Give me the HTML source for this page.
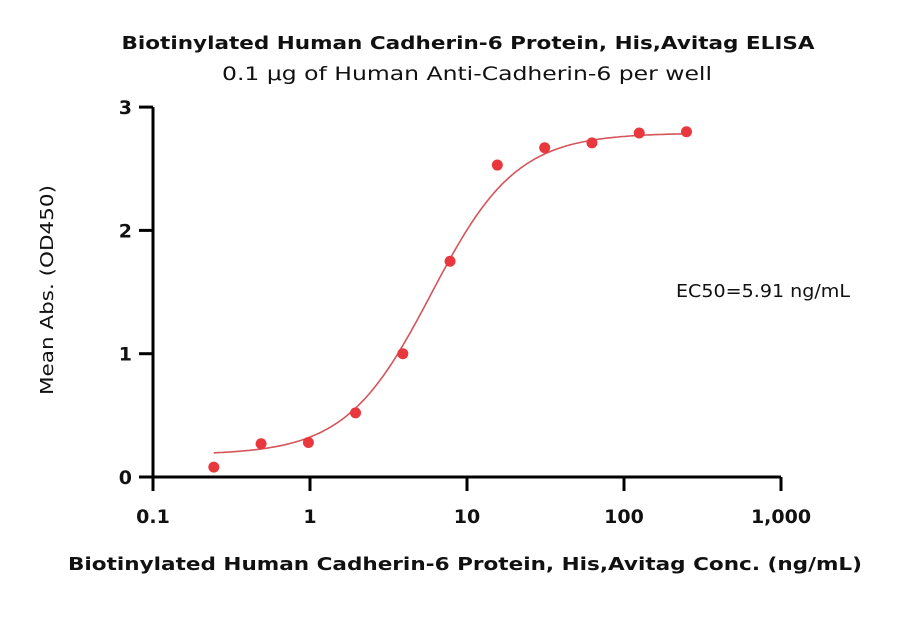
<!DOCTYPE html>
<html><head><meta charset="utf-8"><style>
body{margin:0;background:#fff;}
svg text{font-family:"DejaVu Sans","Liberation Sans",sans-serif;}
</style></head><body>
<svg width="910" height="634" viewBox="0 0 910 634">
<rect width="910" height="634" fill="#fff"/>
<text x="468" y="49" text-anchor="middle" font-size="18" font-weight="bold" fill="#111" textLength="693" lengthAdjust="spacingAndGlyphs">Biotinylated Human Cadherin-6 Protein, His,Avitag ELISA</text>
<text x="467" y="80" text-anchor="middle" font-size="19" fill="#111" textLength="490" lengthAdjust="spacingAndGlyphs">0.1 μg of Human Anti-Cadherin-6 per well</text>
<text transform="translate(53,290) rotate(-90)" text-anchor="middle" font-size="18" fill="#111" textLength="210" lengthAdjust="spacingAndGlyphs">Mean Abs. (OD450)</text>
<text x="465" y="570" text-anchor="middle" font-size="18" font-weight="bold" fill="#111" textLength="794" lengthAdjust="spacingAndGlyphs">Biotinylated Human Cadherin-6 Protein, His,Avitag Conc. (ng/mL)</text>
<text x="676" y="297" font-size="18" fill="#111" textLength="174" lengthAdjust="spacingAndGlyphs">EC50=5.91 ng/mL</text>
<g id="axes"></g>
<path id="curve" fill="none" stroke="#d4555a" stroke-width="1.6"/>
<g id="points"></g>
</svg>
<script>
const xValues=[0.244,0.488,0.977,1.95,3.9,7.8,15.6,31.25,62.5,125,250];
const yValues=[0.08,0.27,0.28,0.52,1.0,1.75,2.53,2.67,2.71,2.79,2.80];
const yTicks=[0,1,2,3];
const xTicks=[0.1,1,10,100,1000];
const xTickLabels=["0.1","1","10","100","1,000"];
const fitBottom=0.18, fitTop=2.79, fitEC50=5.91, fitHill=1.6;
const NS="http://www.w3.org/2000/svg";
const X=v=>153+157*(Math.log10(v)+1);
const Y=v=>477-123.3*v;
const ax=document.getElementById('axes');
function mk(t,a,p){const e=document.createElementNS(NS,t);for(const k in a)e.setAttribute(k,a[k]);p.appendChild(e);return e;}
let l=mk('line',{x1:153,y1:Y(3),x2:153,y2:Y(0),stroke:'#000','stroke-width':3},ax);


l=mk('line',{x1:153,y1:477,x2:X(1000),y2:477,stroke:'#000','stroke-width':3},ax);


yTicks.forEach(v=>{
 const t=mk('line',{x1:139,y1:Y(v),x2:153,y2:Y(v),stroke:'#000','stroke-width':3},ax);
 
 
 const tx=mk('text',{x:132,y:Y(v)+7,'text-anchor':'end','font-size':19,'font-weight':'bold',fill:'#111'},ax);
 tx.textContent=v;
 
 
});
xTicks.forEach((v,i)=>{
 const t=mk('line',{x1:X(v),y1:477,x2:X(v),y2:491,stroke:'#000','stroke-width':3},ax);
 
 
 const tx=mk('text',{x:X(v),y:523,'text-anchor':'middle','font-size':19,'font-weight':'bold',fill:'#111'},ax);
 tx.textContent=xTickLabels[i];
 
 
});
let d='';
for(let i=0;i<=200;i++){
 const lx=Math.log10(xValues[0])+(Math.log10(xValues[xValues.length-1])-Math.log10(xValues[0]))*i/200;
 const x=Math.pow(10,lx);
 const y=fitBottom+(fitTop-fitBottom)/(1+Math.pow(fitEC50/x,fitHill));
 d+=(i?'L':'M')+X(x).toFixed(1)+','+Y(y).toFixed(1);
}
document.getElementById('curve').setAttribute('d',d);
const pg=document.getElementById('points');
xValues.forEach((v,i)=>{
 const c=mk('circle',{cx:X(v),cy:Y(yValues[i]),r:5.5,fill:'#e8383d'},pg);
 
 
});
</script>
</body></html>
